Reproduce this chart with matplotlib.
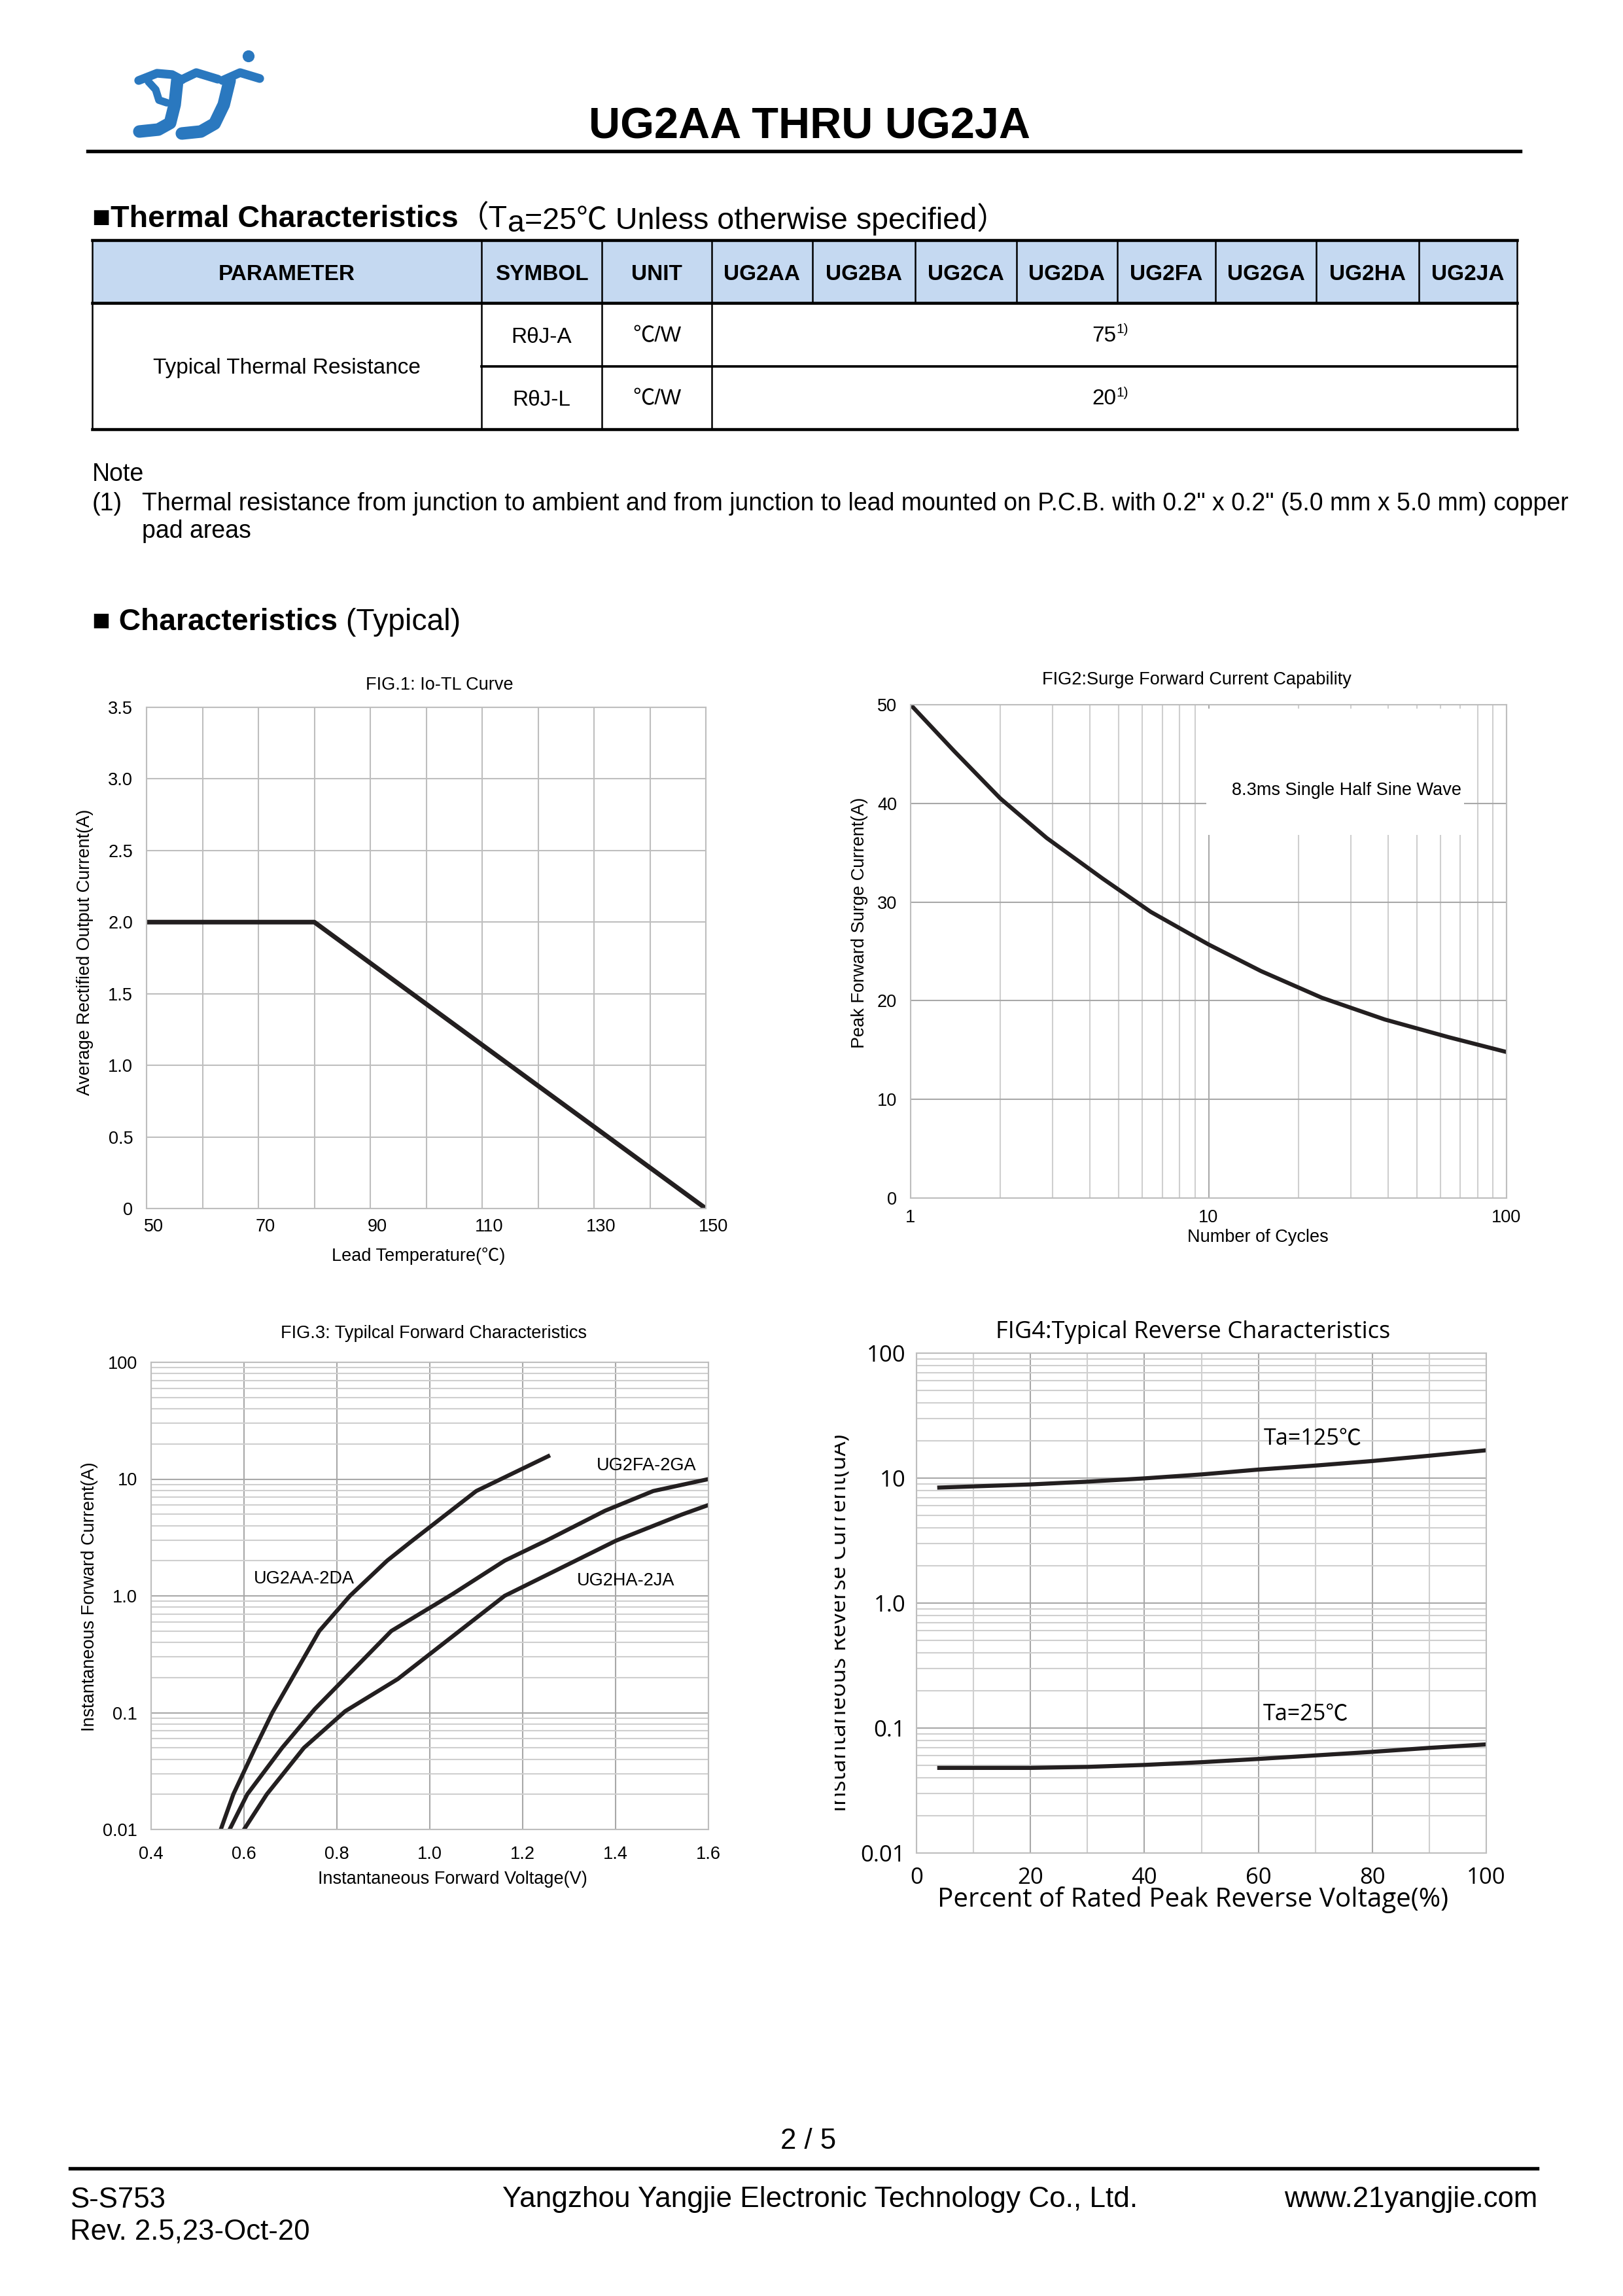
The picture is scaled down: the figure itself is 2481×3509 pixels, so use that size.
import numpy as np
import matplotlib.pyplot as plt
import matplotlib.transforms as mtransforms
from matplotlib.patches import Rectangle, Circle
from matplotlib.ticker import LogLocator, NullFormatter, MultipleLocator

plt.rcParams['font.family'] = ['Liberation Sans', 'Noto Sans CJK SC', 'DejaVu Sans']

W, H = 2481, 3509
DARK = '#231F20'
BLUE = '#2A78BF'
GRID = '#BEBEBE'
GRID_MINOR = '#CFCFCF'

# ---------------- data ----------------
tbl_cols = ["PARAMETER", "SYMBOL", "UNIT", "UG2AA", "UG2BA", "UG2CA", "UG2DA",
            "UG2FA", "UG2GA", "UG2HA", "UG2JA"]
tbl_param = "Typical Thermal Resistance"
tbl_symbols = ["RθJ-A", "RθJ-L"]
tbl_units = ["℃/W", "℃/W"]
tbl_values = ["75", "20"]

note_text = ('Thermal resistance from junction to ambient and from junction to lead mounted on '
             'P.C.B. with 0.2" x 0.2" (5.0 mm x 5.0 mm) copper')
note_text2 = "pad areas"

# FIG.1  Io - TL
fig1_temp = [50, 80, 150]
fig1_io = [2.0, 2.0, 0.0]
fig1_xticks = [50, 70, 90, 110, 130, 150]
fig1_yticks = [0, 0.5, 1.0, 1.5, 2.0, 2.5, 3.0, 3.5]
fig1_ylabels = ["0", "0.5", "1.0", "1.5", "2.0", "2.5", "3.0", "3.5"]

# FIG.2  surge current
fig2_cycles = [1, 1.4, 2, 2.86, 4.4, 6.4, 10, 15, 24, 39, 64, 100]
fig2_ifsm = [50, 45.3, 40.5, 36.5, 32.4, 29.0, 25.7, 23.0, 20.3, 18.1, 16.3, 14.8]
fig2_xticks = [1, 10, 100]
fig2_yticks = [0, 10, 20, 30, 40, 50]

# FIG.3  forward characteristics
fig3_v_ad = [0.550, 0.577, 0.624, 0.661, 0.762, 0.828, 0.908, 0.959, 1.100, 1.255]
fig3_i_ad = [0.01, 0.02, 0.05, 0.1, 0.5, 1.0, 2.0, 2.9, 7.9, 15.7]
fig3_v_fg = [0.569, 0.607, 0.682, 0.752, 0.917, 1.048, 1.161, 1.255, 1.377, 1.481, 1.600]
fig3_i_fg = [0.01, 0.02, 0.05, 0.107, 0.5, 1.03, 2.0, 3.03, 5.35, 7.9, 10.0]
fig3_v_hj = [0.600, 0.649, 0.729, 0.818, 0.931, 1.161, 1.401, 1.542, 1.600]
fig3_i_hj = [0.01, 0.02, 0.05, 0.103, 0.194, 1.0, 2.97, 4.96, 6.0]
fig3_xticks = [0.4, 0.6, 0.8, 1.0, 1.2, 1.4, 1.6]
fig3_xlabels = ["0.4", "0.6", "0.8", "1.0", "1.2", "1.4", "1.6"]
log_ticks = [0.01, 0.1, 1, 10, 100]
log_labels = ["0.01", "0.1", "1.0", "10", "100"]

# FIG.4  reverse characteristics
fig4_pct = [4, 20, 30, 40, 50, 60, 70, 80, 90, 100]
fig4_ir_125 = [8.4, 8.9, 9.37, 9.95, 10.7, 11.7, 12.6, 13.7, 15.1, 16.7]
fig4_ir_25 = [0.048, 0.048, 0.0489, 0.0507, 0.0533, 0.0566, 0.0604, 0.0645, 0.0694, 0.074]
fig4_xticks = [0, 20, 40, 60, 80, 100]

# ---------------- page ----------------
fig = plt.figure(figsize=(W / 300, H / 300), dpi=300)
page = fig.add_axes([0, 0, 1, 1])
page.set_xlim(0, W)
page.set_ylim(H, 0)
page.axis('off')
renderer = fig.canvas.get_renderer()


def px_axes(l, t, r, b):
    return fig.add_axes([l / W, 1 - b / H, (r - l) / W, (b - t) / H])


def seq_text(x, y, pieces):
    # pieces: (text, size, weight, dy)
    for s, size, weight, dy in pieces:
        t = page.text(x, y + dy, s, fontsize=size, fontweight=weight, ha='left', va='center')
        x += t.get_window_extent(renderer).width


# logo
logo_strokes = [
    ([(212, 123), (240, 112), (263, 114), (278, 122)], 3.2),
    ([(227, 125), (238, 137), (243, 153), (255, 157)], 2.8),
    ([(271, 123), (267, 160), (260, 188), (242, 198), (213, 201)], 4.6),
    ([(277, 122), (300, 111), (333, 121)], 3.2),
    ([(351, 123), (342, 160), (328, 189), (307, 201), (278, 204)], 4.6),
    ([(340, 123), (367, 111), (397, 120)], 3.2),
]
for pts, lw in logo_strokes:
    xs, ys = zip(*pts)
    page.plot(xs, ys, color=BLUE, lw=lw, solid_capstyle='round', solid_joinstyle='round')
page.add_patch(Circle((380, 86), 7, color=BLUE))

page.text(1238, 194, "UG2AA THRU UG2JA", fontsize=16, fontweight='bold', ha='center', va='center')
page.plot([134, 2324], [231, 231], color='black', lw=1.3)

seq_text(141, 335, [("■Thermal Characteristics", 11.2, 'bold', 0),
                    ("（T", 11.2, 'normal', 0),
                    ("a", 11.2, 'normal', 7),
                    ("=25℃ Unless otherwise specified）", 11.2, 'normal', 0)])

# table
col_x = [141, 736, 920, 1088, 1242, 1399, 1554, 1708, 1858, 2012, 2169, 2319]
row_y = [367, 463, 560, 656]
page.add_patch(Rectangle((col_x[0], row_y[0]), col_x[-1] - col_x[0], row_y[1] - row_y[0],
                         fc='#C5D9F1', ec='none'))
for y in (row_y[0], row_y[1], row_y[3]):
    page.plot([col_x[0], col_x[-1]], [y, y], color='black', lw=1.1)
page.plot([col_x[1], col_x[-1]], [row_y[2], row_y[2]], color='black', lw=0.9)
for i, x in enumerate(col_x):
    bottom = row_y[3] if i <= 3 or i == len(col_x) - 1 else row_y[1]
    page.plot([x, x], [row_y[0], bottom], color='black', lw=0.6)
for i, name in enumerate(tbl_cols):
    cx = (col_x[i] + col_x[i + 1]) / 2
    page.text(cx, 420, name, fontsize=8, fontweight='bold', ha='center', va='center')
page.text((col_x[0] + col_x[1]) / 2, 562, tbl_param, fontsize=8, ha='center', va='center')
val_cx = (col_x[3] + col_x[-1]) / 2
for j in range(2):
    cy = (row_y[j + 1] + row_y[j + 2]) / 2 + 2
    page.text((col_x[1] + col_x[2]) / 2, cy + 2, tbl_symbols[j], fontsize=8, ha='center', va='center')
    page.text((col_x[2] + col_x[3]) / 2, cy, tbl_units[j], fontsize=8, ha='center', va='center')
    t = page.text(val_cx - 16, cy, tbl_values[j], fontsize=8, ha='center', va='center')
    bb = t.get_window_extent(renderer)
    page.text(val_cx - 16 + bb.width / 2, cy - 10, "1)", fontsize=5, ha='left', va='center')

# note
page.text(141, 725, "Note", fontsize=9, ha='left', va='center')
page.text(141, 770, "(1)", fontsize=9, ha='left', va='center')
page.text(217, 770, note_text, fontsize=9.0, ha='left', va='center')
page.text(217, 812, note_text2, fontsize=9.0, ha='left', va='center')

seq_text(141, 951, [("■ Characteristics", 11.1, 'bold', 0), (" (Typical)", 11.1, 'normal', 0)])


def style_axes(ax, fs=6.5):
    ax.set_axisbelow(True)
    for sp in ax.spines.values():
        sp.set_color(GRID)
        sp.set_linewidth(0.5)
    ax.tick_params(which='both', length=0, labelsize=fs)


# ---------------- FIG.1 ----------------
ax1 = px_axes(224, 1081, 1079, 1847)
ax1.plot(fig1_temp, fig1_io, color=DARK, lw=1.7)
ax1.set_xlim(50, 150)
ax1.set_ylim(0, 3.5)
ax1.set_xticks(fig1_xticks)
ax1.xaxis.set_minor_locator(MultipleLocator(10))
ax1.set_yticks(fig1_yticks, labels=fig1_ylabels)
ax1.grid(which='both', color=GRID, lw=0.5)
style_axes(ax1)
ax1.tick_params(axis='x', pad=3.5)
ax1.tick_params(axis='y', pad=5)
shift = mtransforms.ScaledTranslation(11 / 300, 0, fig.dpi_scale_trans)
for lbl in ax1.get_xticklabels():
    lbl.set_transform(lbl.get_transform() + shift)
page.text(672, 1047, "FIG.1: Io-TL Curve", fontsize=6.5, ha='center', va='center')
page.text(130, 1455, "Average Rectified Output Current(A)", fontsize=6.5, rotation=90,
          ha='center', va='center')
page.text(640, 1920, "Lead Temperature(℃)", fontsize=6.5, ha='center', va='center')

# ---------------- FIG.2 ----------------
ax2 = px_axes(1392, 1077, 2303, 1831)
ax2.set_xscale('log')
ax2.add_patch(Rectangle((9.8, 36.8), 72 - 9.8, 12.8, fc='white', ec='none', zorder=1))
ax2.plot(fig2_cycles, fig2_ifsm, color=DARK, lw=1.5, zorder=2)
ax2.set_xlim(1, 100)
ax2.set_ylim(0, 50)
ax2.set_xticks(fig2_xticks, labels=[str(v) for v in fig2_xticks])
ax2.xaxis.set_minor_locator(LogLocator(subs=np.arange(2, 10)))
ax2.xaxis.set_minor_formatter(NullFormatter())
ax2.set_yticks(fig2_yticks)
ax2.grid(which='major', color='#A8A8A8', lw=0.5)
ax2.grid(which='minor', axis='x', color=GRID_MINOR, lw=0.5)
style_axes(ax2)
ax2.tick_params(axis='x', pad=4)
ax2.tick_params(axis='y', pad=5)
ax2.text(29, 41.3, "8.3ms Single Half Sine Wave", fontsize=6.5, ha='center', va='center', zorder=3)
page.text(1829, 1039, "FIG2:Surge Forward Current Capability", fontsize=6.5, ha='center', va='center')
page.text(1314, 1410, "Peak Forward Surge Current(A)", fontsize=6.5, rotation=90,
          ha='center', va='center')
page.text(1923, 1891, "Number of Cycles", fontsize=6.5, ha='center', va='center')

# ---------------- FIG.3 ----------------
ax3 = px_axes(231, 2082, 1083, 2796)
ax3.set_yscale('log')
for v, i in ((fig3_v_ad, fig3_i_ad), (fig3_v_fg, fig3_i_fg), (fig3_v_hj, fig3_i_hj)):
    ax3.plot(v, i, color=DARK, lw=1.5)
ax3.set_xlim(0.4, 1.6)
ax3.set_ylim(0.01, 100)
ax3.set_xticks(fig3_xticks, labels=fig3_xlabels)
ax3.set_yticks(log_ticks, labels=log_labels)
ax3.yaxis.set_minor_locator(LogLocator(subs=np.arange(2, 10)))
ax3.yaxis.set_minor_formatter(NullFormatter())
ax3.grid(which='major', color='#A8A8A8', lw=0.5)
ax3.grid(which='minor', axis='y', color=GRID_MINOR, lw=0.5)
style_axes(ax3)
ax3.tick_params(axis='x', pad=6)
ax3.tick_params(axis='y', pad=5)
ax3.text(0.73, 1.39, "UG2AA-2DA", fontsize=6.5, ha='center', va='center')
ax3.text(1.467, 13.1, "UG2FA-2GA", fontsize=6.5, ha='center', va='center')
ax3.text(1.422, 1.34, "UG2HA-2JA", fontsize=6.5, ha='center', va='center')
page.text(663, 2038, "FIG.3: Typilcal Forward Characteristics", fontsize=6.5, ha='center', va='center')
page.text(137, 2440, "Instantaneous Forward Current(A)", fontsize=6.5, rotation=90,
          ha='center', va='center')
page.text(692, 2872, "Instantaneous Forward Voltage(V)", fontsize=6.5, ha='center', va='center')

# ---------------- FIG.4 ----------------
F4 = ['Open Sans', 'Noto Sans CJK SC', 'DejaVu Sans']
ax4 = px_axes(1401, 2068, 2272, 2832)
ax4.set_yscale('log')
ax4.plot(fig4_pct, fig4_ir_125, color=DARK, lw=1.5)
ax4.plot(fig4_pct, fig4_ir_25, color=DARK, lw=1.5)
ax4.set_xlim(0, 100)
ax4.set_ylim(0.01, 100)
ax4.set_xticks(fig4_xticks, labels=[str(v) for v in fig4_xticks], family=F4, fontsize=8.3)
ax4.xaxis.set_minor_locator(MultipleLocator(10))
ax4.set_yticks(log_ticks, labels=log_labels, family=F4, fontsize=8.3)
ax4.yaxis.set_minor_locator(LogLocator(subs=np.arange(2, 10)))
ax4.yaxis.set_minor_formatter(NullFormatter())
ax4.grid(which='major', color='#A8A8A8', lw=0.5)
ax4.grid(which='minor', color=GRID_MINOR, lw=0.5)
style_axes(ax4, fs=8.3)
ax4.tick_params(axis='x', pad=5)
ax4.tick_params(axis='y', pad=4)
ax4.text(69.6, 20.5, "Ta=125℃", fontsize=8.2, family=F4, ha='center', va='center')
ax4.text(68.3, 0.128, "Ta=25℃", fontsize=8.2, family=F4, ha='center', va='center')
page.text(1824, 2036, "FIG4:Typical Reverse Characteristics", fontsize=8.7, family=F4,
          ha='center', va='center')
page.text(1824, 2904, "Percent of Rated Peak Reverse Voltage(%)", fontsize=9.7, family=F4,
          ha='center', va='center')
page.text(1293, 2480, "Instantaneous Reverse Current(uA)", fontsize=8.5, family=F4, rotation=90,
          rotation_mode='anchor', ha='center', va='baseline')
page.add_patch(Rectangle((1200, 2100), 76, 750, fc='white', ec='none', zorder=5))

# ---------------- footer ----------------
page.text(1236, 3272, "2 / 5", fontsize=10.5, ha='center', va='center')
page.plot([107, 2350], [3314, 3314], color='black', lw=1.3)
page.text(107, 3362, "S-S753", fontsize=10.5, ha='left', va='center')
page.text(107, 3411, "Rev. 2.5,23-Oct-20", fontsize=10.5, ha='left', va='center')
page.text(1254, 3362, "Yangzhou Yangjie Electronic Technology Co., Ltd.", fontsize=10.6,
          ha='center', va='center')
page.text(2350, 3362, "www.21yangjie.com", fontsize=10.5, ha='right', va='center')

fig.savefig('out.png', dpi=300)
